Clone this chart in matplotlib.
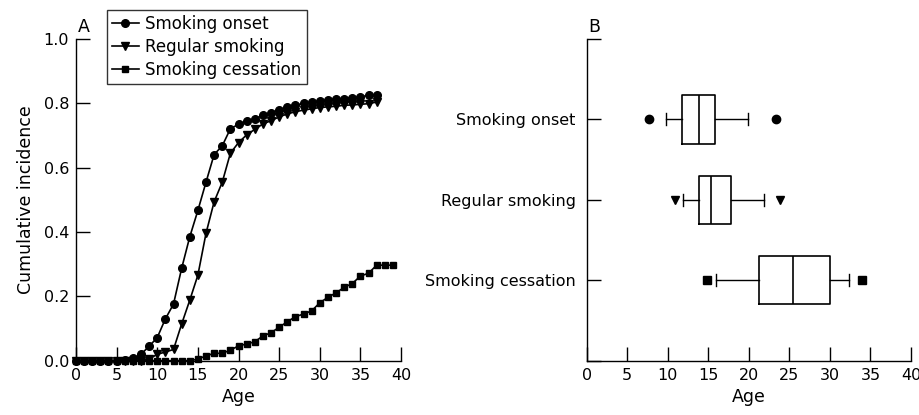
import matplotlib
matplotlib.use("Agg")
import matplotlib.pyplot as plt

# cumulative incidence curves (panel A)
ages_onset = list(range(0, 38))
onset = [0, 0, 0, 0, 0, 0, 0.002, 0.007, 0.020, 0.045, 0.072, 0.130, 0.176,
         0.287, 0.385, 0.467, 0.555, 0.641, 0.668, 0.721, 0.735, 0.744, 0.751,
         0.763, 0.771, 0.779, 0.788, 0.794, 0.800, 0.804, 0.807, 0.810, 0.814,
         0.815, 0.818, 0.819, 0.826, 0.827]
ages_regular = list(range(0, 38))
regular = [0, 0, 0, 0, 0, 0, 0, 0, 0, 0.005, 0.020, 0.027, 0.035, 0.114,
           0.188, 0.266, 0.396, 0.494, 0.555, 0.645, 0.678, 0.702, 0.719,
           0.736, 0.746, 0.758, 0.767, 0.774, 0.779, 0.783, 0.787, 0.789,
           0.791, 0.794, 0.795, 0.797, 0.799, 0.804]
ages_cess = list(range(0, 40))
cessation = [0, 0, 0, 0, 0, 0, 0, 0, 0, 0, 0, 0, 0, 0, 0, 0.005, 0.015, 0.023,
             0.023, 0.033, 0.046, 0.052, 0.059, 0.077, 0.087, 0.104, 0.121,
             0.137, 0.145, 0.155, 0.180, 0.197, 0.211, 0.228, 0.240, 0.263,
             0.272, 0.297, 0.297, 0.297]

# box plot summaries (panel B)
labels = ["Smoking onset", "Regular smoking", "Smoking cessation"]
q1 = [11.7, 13.8, 21.2]
med = [13.8, 15.3, 25.4]
q3 = [15.8, 17.8, 30.0]
whislo = [9.8, 11.9, 16.0]
whishi = [19.9, 21.9, 32.3]
out_lo = [7.7, 10.9, 14.9]
out_hi = [23.3, 23.9, 34.0]
markers = ["o", "v", "s"]

plt.rcParams["font.family"] = "DejaVu Sans"
plt.rcParams["font.size"] = 11.5

fig = plt.figure(figsize=(9.2, 4.15), dpi=100)
axA = fig.add_axes([0.0826, 0.1308, 0.3533, 0.7752])
axB = fig.add_axes([0.6377, 0.1308, 0.3525, 0.7752])

for ax in (axA, axB):
    ax.spines["top"].set_visible(False)
    ax.spines["right"].set_visible(False)
    for s in ("left", "bottom"):
        ax.spines[s].set_linewidth(1.0)
    ax.tick_params(direction="in", length=10, width=1.0, pad=5, labelsize=11.5)
    ax.set_xlim(0, 40)
    ax.set_xticks(range(0, 41, 5))
    ax.set_xlabel("Age", fontsize=12.5, labelpad=4)

kw = dict(color="black", lw=1.2, clip_on=False)
axA.plot(ages_onset, onset, marker="o", ms=5.5, label="Smoking onset", **kw)
axA.plot(ages_regular, regular, marker="v", ms=5.5, label="Regular smoking", **kw)
axA.plot(ages_cess, cessation, marker="s", ms=5, label="Smoking cessation", **kw)
axA.set_ylim(0, 1.0)
axA.set_yticks([0, 0.2, 0.4, 0.6, 0.8, 1.0])
axA.set_yticklabels(["0.0", "0.2", "0.4", "0.6", "0.8", "1.0"])
axA.set_ylabel("Cumulative incidence", fontsize=12.5, labelpad=6)
axA.text(0.005, 1.01, "A", transform=axA.transAxes, fontsize=12.5, va="bottom")
leg = axA.legend(loc="upper left", bbox_to_anchor=(0.1163, 0.976),
                 bbox_transform=fig.transFigure, fontsize=12, frameon=True,
                 fancybox=False, edgecolor="black", handlelength=1.6,
                 handletextpad=0.4, labelspacing=0.3, borderpad=0.3,
                 borderaxespad=0)
leg.get_frame().set_linewidth(1.0)

positions = [3, 2, 1]
stats = []
for i in range(3):
    stats.append(dict(med=med[i], q1=q1[i], q3=q3[i], whislo=whislo[i],
                      whishi=whishi[i], fliers=[out_lo[i], out_hi[i]]))
res = axB.bxp(stats, positions=positions, orientation="horizontal",
              widths=0.6, capwidths=0.15, showfliers=True,
              boxprops=dict(color="black", lw=1.2),
              medianprops=dict(color="black", lw=1.2),
              whiskerprops=dict(color="black", lw=1.0),
              capprops=dict(color="black", lw=1.0),
              flierprops=dict(markerfacecolor="black", markeredgecolor="black",
                              markersize=6))
for fl, m in zip(res["fliers"], markers):
    fl.set_marker(m)
axB.set_ylim(0, 4)
axB.set_yticks([0, 1, 2, 3, 4])
axB.set_yticklabels(["", labels[2], labels[1], labels[0], ""])
axB.tick_params(axis="y", pad=8)
axB.text(0.005, 1.01, "B", transform=axB.transAxes, fontsize=12.5, va="bottom")

fig.savefig("out.png", dpi=100)
